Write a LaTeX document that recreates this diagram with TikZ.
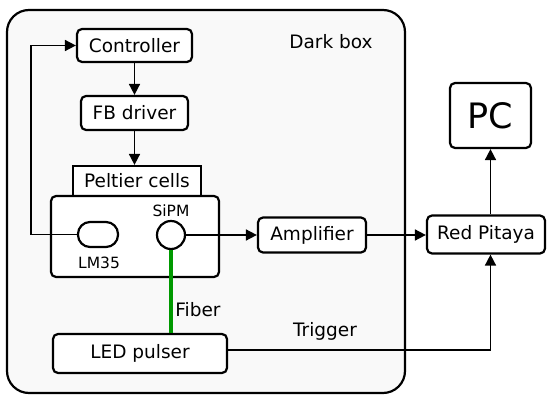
\documentclass[tikz,border=0pt]{standalone}
\usepackage{fontspec}
\setmainfont{DejaVu Sans}
\usetikzlibrary{arrows.meta,positioning,calc}

\tikzset{
  blk/.style={draw,line width=2.2pt,rounded corners=5pt,fill=white,inner sep=0pt,align=center},
  lbl/.style={inner sep=0pt},
  sm/.style={font=\fontsize{15.5}{17}\selectfont},
  conn/.style={line width=1.6pt,-{Triangle[length=11pt,width=11pt]}},
  fiber/.style={line width=4pt,draw=green!60!black}
}

\begin{document}
\begin{tikzpicture}[x=1pt,y=-1pt,every node/.style={font=\fontsize{18.5}{22}\selectfont}]
\useasboundingbox (0,0) rectangle (550,401);
% dark box
\draw[line width=2.2pt,rounded corners=22pt,fill=black!2.5] (7,10) rectangle (405,393);
\node[lbl] (dark) at (331,42) {Dark box};

\node[blk,minimum width=115pt,minimum height=33pt] (ctrl) at (134.5,45.5) {Controller};
\node[blk,minimum width=107pt,minimum height=34pt] (fbd) at (134.5,113) {FB driver};
\node[blk,sharp corners,minimum width=128pt,minimum height=30pt] (pelt) at (137,181) {Peltier cells};
\node[blk,minimum width=168pt,minimum height=81pt] (sbox) at (135,236.5) {};
\node[blk,rounded corners=12pt,minimum width=40pt,minimum height=25pt] (lm) at (98,234.5) {};
\node[lbl,sm] (lmlbl) at (99,263) {LM35};
\node[blk,circle,minimum size=28pt] (sipm) at (171,235) {};
\node[lbl,sm] (sipmlbl) at (171,211) {SiPM};
\node[blk,minimum width=108pt,minimum height=35pt] (amp) at (312,235) {Amplifier};
\node[blk,minimum width=118pt,minimum height=38pt] (rp) at (486,234.5) {Red Pitaya};
\node[blk,minimum width=81pt,minimum height=65pt,font=\fontsize{35}{40}\selectfont] (pc) at (490.5,115.5) {PC};
\node[blk,minimum width=174pt,minimum height=39pt] (led) at (140,353.5) {LED pulser};
\node[lbl] (fib) at (198,310) {Fiber};
\node[lbl] (trig) at (325,331) {Trigger};

% connections
\coordinate (fb) at (31,234.5);
\draw[conn] (lm.west) -- (fb) |- (ctrl.west);
\draw[conn] (ctrl.south) -- (fbd.north);
\draw[conn] (fbd.south) -- (fbd.south |- pelt.north);
\draw[conn] (sipm.east) -- (sipm.east -| amp.west);
\draw[conn] (amp.east) -- (amp.east -| rp.west);
\draw[conn] (pc.south |- rp.north) -- (pc.south);
\draw[conn] ([yshift=3.5pt]led.east) -| (pc.south |- rp.south);
\draw[fiber] (sipm.south) -- (led.north -| sipm.south);
\end{tikzpicture}
\end{document}
